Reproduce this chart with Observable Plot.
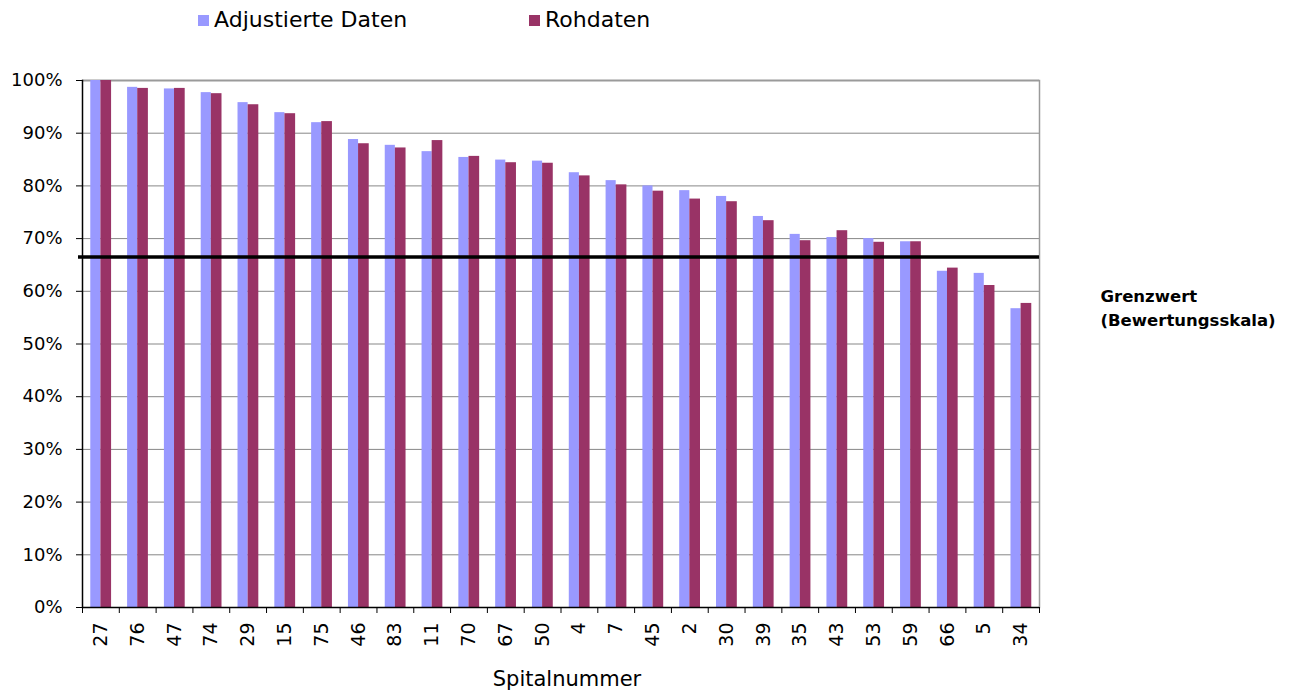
<!DOCTYPE html>
<html><head><meta charset="utf-8">
<script src="https://cdn.jsdelivr.net/npm/d3@7"></script>
<script src="https://cdn.jsdelivr.net/npm/@observablehq/plot@0.6"></script>
<style>
body{margin:0;background:#fff;font-family:"DejaVu Sans",sans-serif;}
#legend{position:relative;width:1298px;height:40px;font-size:22px;color:#000;}
.item{position:absolute;top:5px;display:flex;align-items:center;line-height:30px;}
.sw{width:11px;height:11px;margin-right:5px;}
</style></head><body>
<div id="legend"></div><div id="chart"></div>
<script>
const spitaeler = ["27","76","47","74","29","15","75","46","83","11","70","67","50","4","7","45","2","30","39","35","43","53","59","66","5","34"];
const adjustiert = [100,98.7,98.4,97.7,95.8,93.9,92.0,88.8,87.7,86.5,85.4,84.9,84.7,82.5,81.0,80.0,79.1,78.0,74.2,70.8,70.2,70.0,69.4,63.8,63.4,56.7];
const rohdaten   = [100,98.5,98.5,97.5,95.4,93.7,92.2,88.0,87.2,88.6,85.6,84.4,84.3,81.9,80.2,79.0,77.5,77.0,73.4,69.6,71.5,69.3,69.4,64.4,61.1,57.7];
const grenzwert = 66.5;
const yTicks = [0,10,20,30,40,50,60,70,80,90,100];
const serien = ["Adjustierte Daten","Rohdaten"];
const farben = ["#9999ff","#993366"];
const xTitel = "Spitalnummer";
const grenzText = "Grenzwert\n(Bewertungsskala)";

// legend
const leg = document.getElementById("legend");
[198, 529].forEach((left, i) => {
  const d = document.createElement("div");
  d.className = "item"; d.style.left = left + "px";
  d.innerHTML = `<span class="sw" style="background:${farben[i]}"></span><span>${serien[i]}</span>`;
  leg.appendChild(d);
});

const W = 1298, H = 658, mL = 82, mR = 259, mT = 40, mB = 91;
const step = (W - mL - mR) / spitaeler.length;

const rows = spitaeler.map((s, i) => ({s, a: adjustiert[i], r: rohdaten[i]}));

const chart = Plot.plot({
  width: W, height: H,
  marginLeft: mL, marginRight: mR, marginTop: mT, marginBottom: mB,
  style: {fontFamily: "DejaVu Sans, sans-serif", fontSize: "18px", color: "#000", background: "#fff"},
  x: {domain: spitaeler, padding: 0, round: false, axis: null},
  y: {domain: [0, 100], axis: null},
  marks: [
    Plot.gridY(yTicks.slice(1, -1), {stroke: "#878787", strokeOpacity: 1, strokeWidth: 1}),
    Plot.ruleY([100], {stroke: "#9a9a9a", strokeWidth: 2}),
    Plot.frame({anchor: "right", stroke: "#9a9a9a", strokeWidth: 1.5}),
    Plot.barY(rows, {x: "s", y: "a", fill: farben[0], insetLeft: step * 0.225, insetRight: step * 0.5}),
    Plot.barY(rows, {x: "s", y: "r", fill: farben[1], insetLeft: step * 0.5, insetRight: step * 0.21}),
    Plot.ruleY([grenzwert], {stroke: "#000", strokeWidth: 3.5, insetLeft: -4}),
    Plot.ruleY([0], {stroke: "#000", strokeWidth: 1.5}),
    Plot.frame({anchor: "left", stroke: "#000", strokeWidth: 1.5}),
    Plot.axisY(yTicks, {tickSize: 6, tickPadding: 14, tickFormat: d => d + "%", stroke: "#000", fontSize: 18, label: null}),
    Plot.axisX({tickSize: 6, tickFormat: () => "", dx: -step / 2, stroke: "#000", label: null}),
    Plot.axisX([spitaeler[spitaeler.length - 1]], {tickSize: 6, tickFormat: () => "", dx: step / 2, stroke: "#000", label: null}),
    Plot.axisX({tickSize: 0, tickPadding: 15, tickRotate: -90, fontSize: 19, label: null}),
    Plot.text([xTitel], {frameAnchor: "bottom", dy: 78, dx: 6, fontSize: 21, fill: "#000"}),
    Plot.text([grenzText], {frameAnchor: "right", textAnchor: "start", dx: 61, dy: -38, fontSize: 16.5, fontWeight: "bold", lineHeight: 1.5, fill: "#000"})
  ]
});
document.getElementById("chart").appendChild(chart);
</script>
</body></html>
